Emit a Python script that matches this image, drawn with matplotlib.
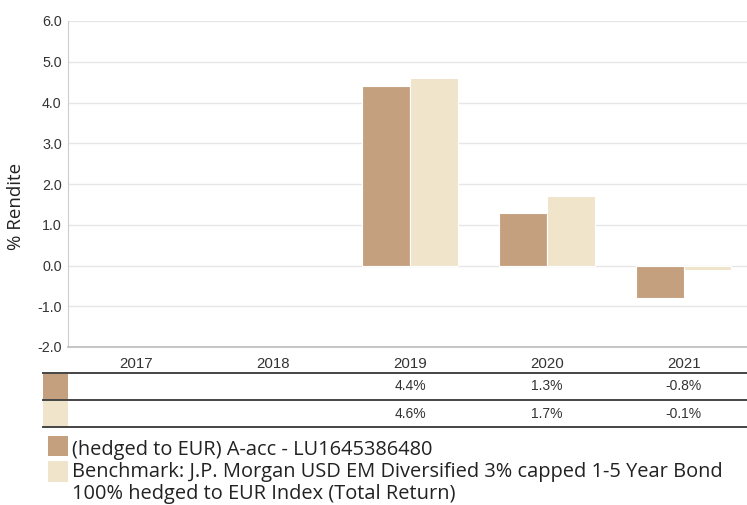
import numpy as np
import matplotlib
matplotlib.use("Agg")
import matplotlib.pyplot as plt
from matplotlib.transforms import blended_transform_factory
from matplotlib.patches import Rectangle

years = ["2017", "2018", "2019", "2020", "2021"]
fund = [np.nan, np.nan, 4.4, 1.3, -0.8]
bench = [np.nan, np.nan, 4.6, 1.7, -0.1]
fund_name = "(hedged to EUR) A-acc - LU1645386480"
bench_name = ("Benchmark: J.P. Morgan USD EM Diversified 3% capped 1-5 Year Bond\n"
              "100% hedged to EUR Index (Total Return)")
yticks = [-2.0, -1.0, 0.0, 1.0, 2.0, 3.0, 4.0, 5.0, 6.0]

c_fund = "#C4A07F"
c_bench = "#F0E4CA"

W, H = 747, 505
fig = plt.figure(figsize=(W / 100, H / 100), dpi=100)

def fx(px):
    return px / W

def fy(py):
    return 1 - py / H

ax = fig.add_axes([fx(68), fy(347), fx(752) - fx(68), fy(21) - fy(347)])
x = np.arange(len(years))
bw = 0.35
ax.bar(x - bw / 2, fund, width=bw, color=c_fund, edgecolor="white", linewidth=0.8, zorder=3)
ax.bar(x + bw / 2, bench, width=bw, color=c_bench, edgecolor="white", linewidth=0.8, zorder=3)
ax.set_xlim(-0.5, len(years) - 0.5)
ax.set_ylim(-2, 6)
ax.set_yticks(yticks)
ax.set_yticklabels([f"{v:.1f}" for v in yticks], fontsize=10.3,
                   family="Liberation Sans", color="#333333")
ax.set_xticks(x)
ax.set_xticklabels(years, fontsize=10.8, family="Liberation Sans", color="#333333")
ax.tick_params(axis="both", length=0)
ax.tick_params(axis="x", pad=7)
ax.tick_params(axis="y", pad=4.5)
ax.grid(axis="y", color="#e6e6e6", linewidth=1, zorder=0)
for s in ["top", "right"]:
    ax.spines[s].set_visible(False)
ax.spines["left"].set_color("#cccccc")
ax.spines["bottom"].set_color("#bbbbbb")
ax.spines["bottom"].set_linewidth(1.2)
ax.set_ylabel("% Rendite", fontsize=13.5, family="Open Sans", color="#222222")
ax.yaxis.set_label_coords(-(68 - 25) / (752 - 68), (347 - 206) / (347 - 21))

# table below
trans = blended_transform_factory(ax.transData, fig.transFigure)
rows_y = [373, 400, 427]
for yy in rows_y:
    fig.add_artist(plt.Line2D([fx(43), 1.0], [fy(yy), fy(yy)], color="#444444",
                              linewidth=1.4, transform=fig.transFigure))
for i, (vals, col) in enumerate([(fund, c_fund), (bench, c_bench)]):
    top = rows_y[i] + 1
    bot = rows_y[i + 1] - 1
    fig.add_artist(Rectangle((fx(43), fy(bot)), fx(68) - fx(43), fy(top) - fy(bot),
                             color=col, transform=fig.transFigure, linewidth=0))
    ymid = fy((top + bot) / 2)
    for j, v in enumerate(vals):
        if not np.isnan(v):
            fig.text(x[j], ymid, f"{v:.1f}%", transform=trans, ha="center", va="center",
                     fontsize=10, family="Liberation Sans", color="#333333")

# legend
fig.add_artist(Rectangle((fx(48), fy(456)), fx(68) - fx(48), fy(436) - fy(456),
                         color=c_fund, transform=fig.transFigure, linewidth=0))
fig.add_artist(Rectangle((fx(48), fy(482)), fx(68) - fx(48), fy(461) - fy(482),
                         color=c_bench, transform=fig.transFigure, linewidth=0))
fig.text(fx(72), fy(455), fund_name, ha="left", va="baseline", fontsize=14.4,
         family="Open Sans", color="#222222")
for k, line in enumerate(bench_name.split("\n")):
    fig.text(fx(72), fy(477 + 22.5 * k), line, ha="left", va="baseline", fontsize=14.4,
             family="Open Sans", color="#222222")

fig.savefig("out.png", dpi=100)
